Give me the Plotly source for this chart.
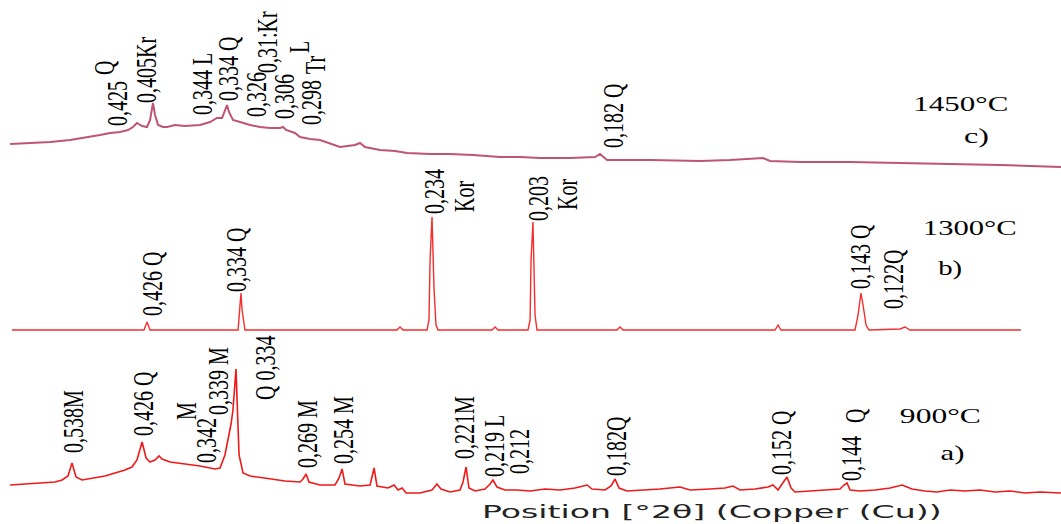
import json
import plotly.graph_objects as go

# ---------------- data (2theta in degrees, intensity in arbitrary units) ----------------
tt_a = [12.63, 13.56, 14.50, 15.44, 15.88, 16.25, 16.50, 16.75, 17.13, 17.94, 18.56, 19.19, 19.81, 20.25,
        20.56, 20.88, 21.13, 21.38, 21.69, 21.94, 22.13, 22.63, 23.56, 24.50, 25.44, 25.75, 26.06, 26.25,
        26.44, 26.56, 26.75, 26.94, 27.19, 27.63, 28.56, 29.81, 30.75, 30.94, 31.13, 31.31, 32.00, 32.94,
        33.19, 33.38, 33.56, 34.50, 35.13, 35.38, 35.56, 36.25, 36.63, 36.88, 37.13, 37.38, 38.25, 39.00,
        39.31, 39.56, 40.13, 40.75, 40.94, 41.13, 41.31, 41.69, 42.31, 42.63, 42.81, 43.06, 43.56, 44.31,
        45.13, 46.06, 47.00, 47.94, 48.69, 49.00, 49.81, 50.19, 50.44, 50.69, 51.19, 52.31, 53.25, 54.50,
        55.13, 56.38, 57.31, 57.81, 58.25, 59.19, 60.00, 60.31, 60.63, 60.88, 61.19, 61.44, 61.69, 62.63,
        63.56, 64.50, 64.75, 64.94, 65.13, 65.75, 66.69, 67.63, 68.38, 69.00, 69.81, 70.56, 71.38, 72.31,
        73.25, 74.19, 75.13, 76.06, 77.00, 78.31]
int_a = [10, 11, 12, 13, 15, 19, 32, 18, 15, 17, 19, 22, 25, 28,
         35, 53, 37, 33, 35, 39, 36, 33, 31, 29, 26, 27, 40, 55,
         71, 85, 126, 40, 22, 19, 17, 14, 13, 16, 21, 13, 10, 10,
         17, 26, 11, 9, 10, 27, 9, 7, 10, 5, 7, 2, 2, 5,
         11, 6, 3, 5, 13, 28, 7, 4, 6, 11, 15, 8, 5, 5,
         4, 6, 5, 7, 10, 6, 5, 9, 16, 7, 4, 5, 6, 8,
         5, 6, 7, 9, 5, 6, 8, 10, 5, 11, 18, 7, 3, 4,
         5, 6, 10, 12, 5, 4, 5, 7, 10, 6, 4, 3, 5, 4,
         5, 3, 4, 2, 3, 2]

tt_b = [12.75, 15.75, 18.25, 21.00, 21.19, 21.38, 26.88, 27.00, 27.06, 27.13, 27.31, 36.81, 37.00, 37.19,
        38.69, 38.81, 38.88, 39.00, 39.06, 39.13, 39.25, 39.38, 42.75, 42.94, 43.13, 45.00, 45.13, 45.19,
        45.31, 45.38, 45.44, 45.56, 50.56, 50.75, 50.94, 60.44, 60.63, 60.81, 65.44, 65.63, 65.81, 65.94,
        66.00, 66.13, 66.31, 68.25, 68.56, 68.88, 75.81]
int_b = [0, 0, 0, 0, 8, 0, 0, 20, 37, 20, 0, 0, 3, 0,
         0, 10, 70, 113, 80, 40, 5, 0, 0, 3, 0, 0, 10, 70,
         108, 70, 15, 0, 0, 3, 0, 0, 5, 0, 0, 15, 37, 25,
         18, 5, 0, 1, 3, 0, 0]

tt_c = [12.63, 13.88, 15.13, 16.38, 17.63, 18.25, 18.88, 19.50, 20.00, 20.31, 20.56, 20.88, 21.19, 21.38,
        21.56, 21.69, 21.88, 22.19, 22.44, 22.94, 23.56, 24.50, 25.13, 25.56, 25.88, 26.06, 26.19, 26.31,
        26.56, 27.00, 27.63, 28.25, 28.88, 29.50, 29.69, 29.88, 30.44, 30.75, 31.38, 32.00, 33.25, 34.19,
        34.50, 34.81, 35.75, 36.69, 37.44, 38.88, 40.13, 41.56, 43.25, 44.50, 45.75, 47.63, 49.19, 49.50,
        49.69, 49.94, 52.63, 55.75, 57.63, 59.69, 60.13, 62.00, 65.13, 68.25, 70.31, 72.00, 74.50, 76.38,
        78.31]
int_c = [26, 27, 28, 30, 33, 35, 37, 38, 40, 43, 47, 44, 43, 50,
         67, 55, 45, 43, 43, 45, 44, 45, 48, 52, 52, 60, 65, 58,
         50, 48, 45, 43, 42, 42, 43, 40, 37, 33, 31, 30, 23, 25,
         27, 23, 20, 19, 17, 16, 16, 15, 13, 13, 12, 12, 13, 16,
         13, 10, 10, 9, 10, 12, 9, 8, 8, 7, 7, 6, 5, 4,
         3]

# stacking offsets for the three patterns
offset_a, offset_b, offset_c = 29, 194, 354

# ---------------- labels ----------------
# rotated peak labels: (text, x_px, y_px)
peak_labels = [
    # c) 1450 C
    ("0,425", 117, 104), ("Q", 104, 68), ("0,405Kr", 146, 70), ("0,344 L", 202, 84),
    ("0,334 Q", 228, 69), ("0,326", 256, 95), ("0,31:Kr", 267, 42), ("0,306", 284, 97),
    ("L", 299, 47), ("Tr", 315, 65), ("0,298", 311, 103), ("0,182 Q", 613, 116),
    # b) 1300 C
    ("0,426 Q", 152, 284), ("0,334 Q", 236, 260), ("0,234", 434, 192), ("Kor", 464, 197),
    ("0,203", 538, 199), ("Kor", 567, 195), ("0,143 Q", 860, 257), ("0,122Q", 893, 279),
    # a) 900 C
    ("0,538M", 73, 422), ("0,426 Q", 143, 404), ("M", 186, 411), ("0,342", 206, 441),
    ("0,339 M", 218, 381), ("Q 0,334", 265, 368), ("0,269 M", 307, 434), ("0,254 M", 343, 430),
    ("0,221M", 464, 428), ("0,219 L", 494, 446), ("0,212", 519, 452), ("0,182Q", 616, 446),
    ("0,152 Q", 781, 443), ("Q", 855, 416), ("0,144", 851, 459),
]
# horizontal labels: (text, x_px, y_px, target width px)
flat_labels = [("1450°C", 960, 103, 95), ("c)", 976, 135, 25),
               ("1300°C", 969, 227, 94), ("b)", 950, 267, 24),
               ("900°C", 940, 415, 81), ("a)", 952, 452, 24)]
axis_title = ("Position [°2θ] (Copper (Cu))", 712, 511, 460)

W, H = 1061, 524

fig = go.Figure()
fig.add_trace(go.Scatter(x=tt_c, y=[v + offset_c for v in int_c], mode="lines",
                         line=dict(color="rgb(190,85,115)", width=2), hoverinfo="skip"))
fig.add_trace(go.Scatter(x=tt_b, y=[v + offset_b for v in int_b], mode="lines",
                         line=dict(color="rgb(245,45,45)", width=1.4), hoverinfo="skip"))
fig.add_trace(go.Scatter(x=tt_a, y=[v + offset_a for v in int_a], mode="lines",
                         line=dict(color="rgb(240,25,25)", width=1.6), hoverinfo="skip"))

ann = []
stretch = []  # per annotation: fixed x-scale or target width
for t, px, py in peak_labels:
    ann.append(dict(text=t, x=px / W, y=1 - py / H, xref="paper", yref="paper",
                    showarrow=False, textangle=-90, xanchor="center", yanchor="middle",
                    font=dict(family="Liberation Serif", size=20, color="black")))
    stretch.append({"sx": 1.45})
for t, px, py, w in flat_labels:
    ann.append(dict(text=t, x=px / W, y=1 - py / H, xref="paper", yref="paper",
                    showarrow=False, xanchor="center", yanchor="middle",
                    font=dict(family="Liberation Serif", size=22, color="black")))
    stretch.append({"w": w})
t, px, py, w = axis_title
ann.append(dict(text=t, x=px / W, y=1 - py / H, xref="paper", yref="paper", showarrow=False,
                xanchor="center", yanchor="middle",
                font=dict(family="DejaVu Sans", size=18, color="#222222")))
stretch.append({"w": w})

fig.update_layout(
    width=W, height=H, margin=dict(l=0, r=0, t=0, b=0),
    paper_bgcolor="white", plot_bgcolor="white", showlegend=False,
    xaxis=dict(range=[12.0, 12.0 + W / 16.0], visible=False, fixedrange=True),
    yaxis=dict(range=[0, H], visible=False, fixedrange=True),
    annotations=ann,
)

post_js = """
document.body.style.margin = '0';
var gd = document.getElementById('{plot_id}');
var ST = __STRETCH__;
var groups = gd.querySelectorAll('g.annotation');
groups.forEach(function(g, k){
  var idx = g.getAttribute('data-index');
  idx = (idx === null) ? k : parseInt(idx);
  var cfg = ST[idx];
  if (!cfg) return;
  var bb = g.getBBox();
  var cx = bb.x + bb.width / 2;
  var sx = cfg.sx;
  if (cfg.w) {
    var t = g.querySelector('text.annotation-text');
    var tw = t ? t.getBBox().width : bb.width;
    sx = cfg.w / tw;
  }
  g.setAttribute('transform', 'translate(' + cx + ',0) scale(' + sx + ',1) translate(' + (-cx) + ',0)');
});
""".replace("__STRETCH__", json.dumps(stretch))

fig.write_html("out.html", post_script=post_js, config={"staticPlot": True})
